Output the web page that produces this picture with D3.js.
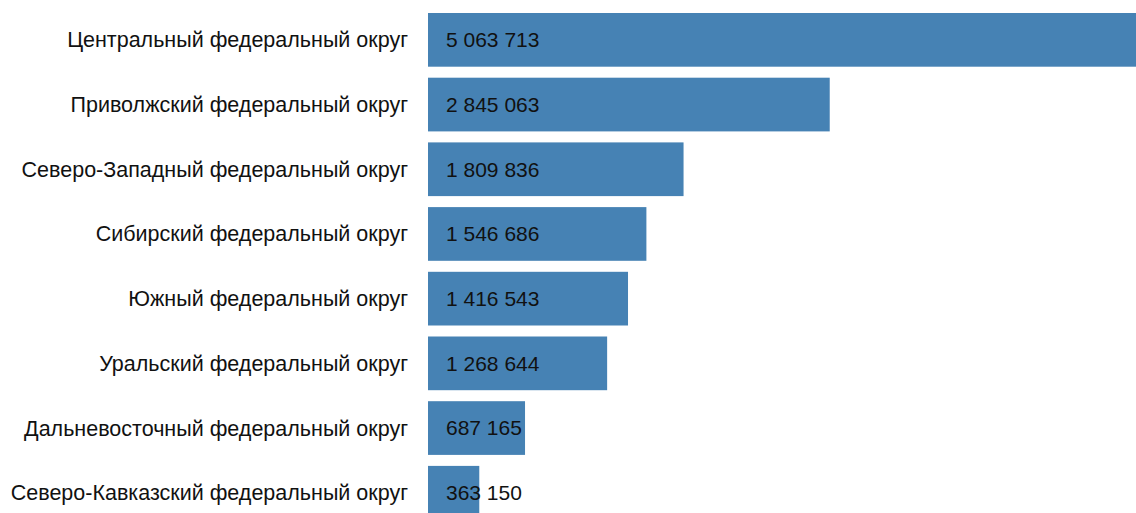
<!doctype html>
<html lang="ru">
<head>
  <meta charset="UTF-8">
  <title>Федеральные округа</title>
  <style>
    body { margin: 0; background: #fff; }
    #app { width: 1136px; height: 513px; overflow: hidden; }
    text { font-family: Arial, "Liberation Sans", sans-serif; fill: #111; }
    .label { font-size: 21.5px; }
    .value { font-size: 21px; }
  </style>
</head>
<body>
<div id="app"></div>
<script src="https://cdn.jsdelivr.net/npm/d3@7/dist/d3.min.js"></script>
<script>
  var categories = [
    'Центральный федеральный округ',
    'Приволжский федеральный округ',
    'Северо-Западный федеральный округ',
    'Сибирский федеральный округ',
    'Южный федеральный округ',
    'Уральский федеральный округ',
    'Дальневосточный федеральный округ',
    'Северо-Кавказский федеральный округ'
  ];
  var values = [5063713, 2845063, 1809836, 1546686, 1416543, 1268644, 687165, 363150];

  var width = 1136;
  var height = 513;
  var left = 428;

  var data = categories.map((c, i) => ({name: c, value: values[i]}));

  var svg = d3.select('#app')
              .append('svg')
              .attr('width', width)
              .attr('height', height);

  var x = d3.scaleLinear()
            .domain([0, d3.max(values)])
            .range([0, 715]);

  var y = d3.scaleBand()
            .domain(categories)
            .range([13, 519.6])
            .paddingInner(0.17)
            .paddingOuter(0);

  var fmt = v => d3.format(',')(v).replace(/,/g, ' ');

  svg.selectAll('rect.bar')
    .data(data)
    .enter()
    .append('rect')
    .attr('class', 'bar')
    .attr('x', left)
    .attr('y', d => y(d.name))
    .attr('width', d => x(d.value))
    .attr('height', y.bandwidth())
    .attr('fill', '#4682b4');

  svg.selectAll('text.label')
    .data(data)
    .enter()
    .append('text')
    .attr('class', 'label')
    .attr('x', 408)
    .attr('y', d => y(d.name) + y.bandwidth() / 2)
    .attr('dy', '0.35em')
    .attr('text-anchor', 'end')
    .text(d => d.name);

  svg.selectAll('text.value')
    .data(data)
    .enter()
    .append('text')
    .attr('class', 'value')
    .attr('x', left + 18)
    .attr('y', d => y(d.name) + y.bandwidth() / 2)
    .attr('dy', '0.35em')
    .text(d => fmt(d.value));
</script>
</body>
</html>
